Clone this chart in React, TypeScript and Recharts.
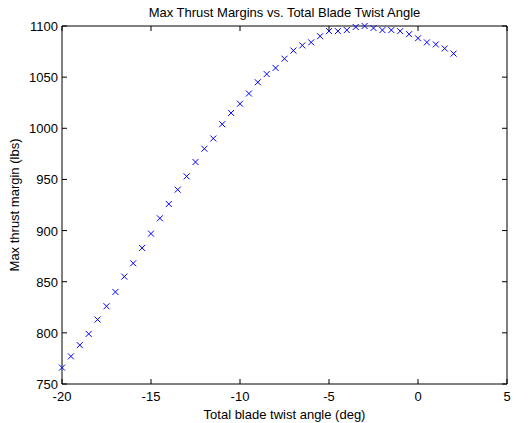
import { ScatterChart, Scatter, XAxis, YAxis } from 'recharts';

// total blade twist angle (deg)
const twistAngles = [
  -20, -19.5, -19, -18.5, -18, -17.5, -17, -16.5, -16, -15.5, -15, -14.5, -14, -13.5, -13,
  -12.5, -12, -11.5, -11, -10.5, -10, -9.5, -9, -8.5, -8, -7.5, -7, -6.5, -6, -5.5, -5,
  -4.5, -4, -3.5, -3, -2.5, -2, -1.5, -1, -0.5, 0, 0.5, 1, 1.5, 2,
];

// max thrust margin (lbs)
const thrustMargins = [
  766, 777, 788, 799, 813, 826, 840, 855, 868, 883, 897, 912, 926, 940, 953,
  967, 980, 990, 1004, 1015, 1024, 1034, 1045, 1053, 1059, 1068, 1076, 1081, 1084, 1090, 1095,
  1095, 1096, 1099, 1100, 1098, 1096, 1096, 1095, 1092, 1088, 1084, 1082, 1078, 1073,
];

const xTicks = [-20, -15, -10, -5, 0, 5];
const yTicks = [750, 800, 850, 900, 950, 1000, 1050, 1100];

const data = twistAngles.map((x, i) => ({ x, y: thrustMargins[i] }));

const font = { fontFamily: '"Liberation Sans", Arial, sans-serif', fontSize: 13, fill: '#000' };
const TICK = 5;

function BottomTick({ x, y, payload }: any) {
  return (
    <g>
      <line x1={x} y1={y} x2={x} y2={y - TICK} stroke="#000" />
      <text x={x} y={y + 17} textAnchor="middle" {...font}>{payload.value}</text>
    </g>
  );
}

function TopTick({ x, y }: any) {
  return <line x1={x} y1={y} x2={x} y2={y + TICK} stroke="#000" />;
}

function LeftTick({ x, y, payload }: any) {
  return (
    <g>
      <line x1={x} y1={y} x2={x + TICK} y2={y} stroke="#000" />
      <text x={x - 4} y={y + 5} textAnchor="end" {...font}>{payload.value}</text>
    </g>
  );
}

function RightTick({ x, y }: any) {
  return <line x1={x} y1={y} x2={x - TICK} y2={y} stroke="#000" />;
}

// matlab style 'x' marker
function XMarker({ cx, cy }: any) {
  const s = 3;
  return (
    <path
      d={`M${cx - s},${cy - s}L${cx + s},${cy + s}M${cx - s},${cy + s}L${cx + s},${cy - s}`}
      stroke="#0000ff"
      strokeWidth={1}
      fill="none"
    />
  );
}

function NoMarker() {
  return <g />;
}

export default function App() {
  return (
    <div style={{ width: 531, height: 423, background: '#fff' }}>
      <style>{`body{margin:0}`}</style>
      <ScatterChart width={531} height={423} margin={{ top: 25, right: 23, bottom: 0, left: 0 }}>
        <XAxis
          dataKey="x"
          type="number"
          domain={[-20, 5]}
          ticks={xTicks}
          height={39}
          tickSize={0}
          tickMargin={0}
          tickLine={false}
          tick={<BottomTick />}
          axisLine={{ stroke: '#000' }}
          label={{
            content: ({ viewBox }: any) => (
              <text x={viewBox.x + viewBox.width / 2} y={418.5} textAnchor="middle" {...font}>
                Total blade twist angle (deg)
              </text>
            ),
          }}
        />
        <XAxis
          xAxisId="top"
          orientation="top"
          dataKey="x"
          type="number"
          domain={[-20, 5]}
          ticks={xTicks}
          height={1}
          tickSize={0}
          tickMargin={0}
          tickLine={false}
          tick={<TopTick />}
          axisLine={{ stroke: '#000' }}
          label={{
            content: ({ viewBox }: any) => (
              <text x={viewBox.x + viewBox.width / 2} y={16.5} textAnchor="middle" {...font}>
                Max Thrust Margins vs. Total Blade Twist Angle
              </text>
            ),
          }}
        />
        <YAxis
          dataKey="y"
          type="number"
          domain={[750, 1100]}
          ticks={yTicks}
          width={62}
          tickSize={0}
          tickMargin={0}
          tickLine={false}
          tick={<LeftTick />}
          axisLine={{ stroke: '#000' }}
          label={{
            content: ({ viewBox }: any) => {
              const cy = viewBox.y + viewBox.height / 2;
              return (
                <text x={18.5} y={cy} transform={`rotate(-90, 18.5, ${cy})`} textAnchor="middle" {...font}>
                  Max thrust margin (lbs)
                </text>
              );
            },
          }}
        />
        <YAxis
          yAxisId="right"
          orientation="right"
          dataKey="y"
          type="number"
          domain={[750, 1100]}
          ticks={yTicks}
          width={1}
          tickSize={0}
          tickMargin={0}
          tickLine={false}
          tick={<RightTick />}
          axisLine={{ stroke: '#000' }}
        />
        <Scatter data={data} shape={<XMarker />} isAnimationActive={false} />
        <Scatter
          data={data}
          xAxisId="top"
          yAxisId="right"
          shape={<NoMarker />}
          legendType="none"
          isAnimationActive={false}
        />
      </ScatterChart>
    </div>
  );
}
